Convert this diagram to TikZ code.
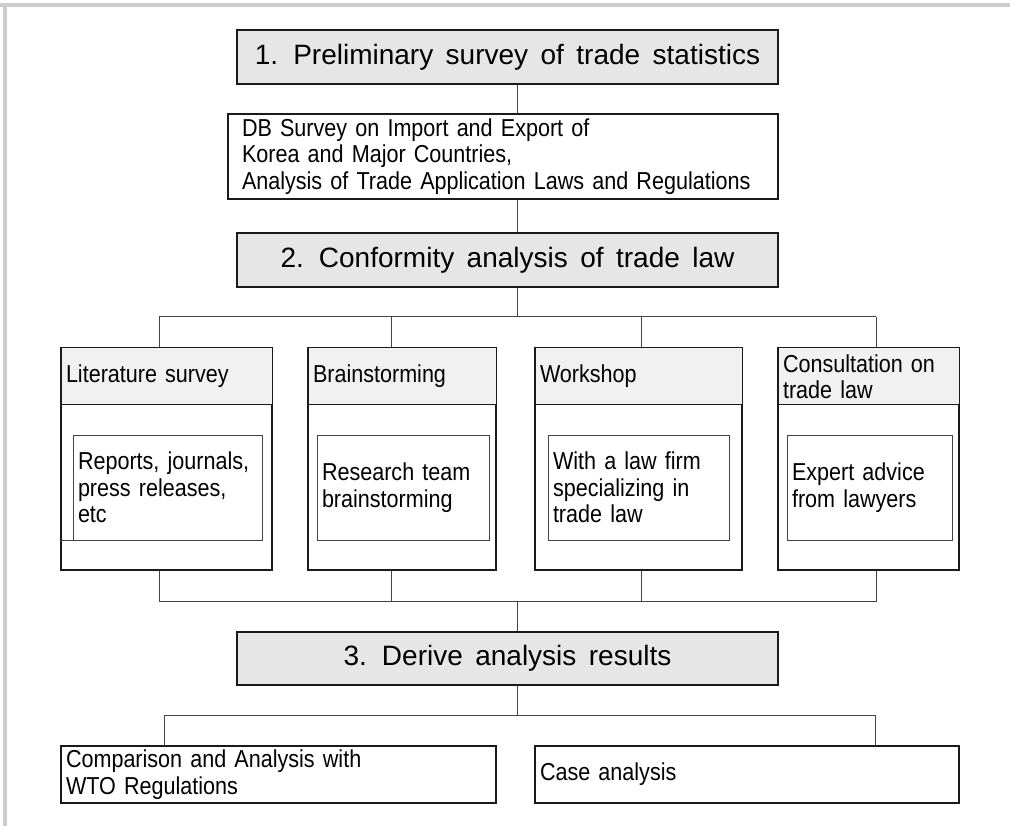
\documentclass[tikz,border=0pt]{standalone}
\usepackage{fontspec}
\setmainfont{Liberation Sans}[FakeStretch=0.88,WordSpace=1.57]
\newfontfamily\stagefont{Liberation Sans}[WordSpace=1.6]
\usepackage{tikz}
\usetikzlibrary{positioning}
\definecolor{ink}{HTML}{1A1A1A}
\definecolor{wire}{HTML}{444444}
\definecolor{stagefill}{HTML}{E6E6E6}
\definecolor{headfill}{HTML}{F1F1F1}
\definecolor{rimgray}{HTML}{CDCDCD}
\tikzset{
  stage/.style={draw=ink, fill=stagefill, line width=1.2pt, minimum width=541, minimum height=54,
    inner sep=0pt, font=\stagefont\fontsize{28}{32}\selectfont},
  note/.style={draw=ink, line width=1.2pt, align=left, inner xsep=5pt, inner ysep=0pt,
    font=\fontsize{24.5}{26.5}\selectfont},
  meth/.style={draw=ink, fill=white, line width=1.2pt, minimum height=222, inner sep=0pt},
  head/.style={draw=ink, fill=headfill, line width=1pt, anchor=north, minimum height=57, align=left,
    inner xsep=5pt, inner ysep=0pt, font=\fontsize{24.5}{26}\selectfont},
  sub/.style={draw=wire, line width=0.8pt, minimum height=105, align=left, inner xsep=5pt,
    inner ysep=0pt, font=\fontsize{24.5}{26.5}\selectfont},
  link/.style={draw=wire, line width=1pt},
  rim/.style={draw=rimgray, line width=4pt},
}

\begin{document}
\begin{tikzpicture}[x=1pt, y=-1pt]
  \useasboundingbox (0,0) rectangle (1010,826);
  \draw[rim] (0,5.3) -- (1010,5.3);
  \draw[rim] (5.3,5.3) -- (5.3,826);
  \coordinate (spine) at (517,0);

  % step 1
  \node[stage] (s1) at (507.5,57) {1. Preliminary survey of trade statistics};
  \node[note, text width=522pt, inner xsep=14pt, minimum height=85] (db) at (503,156.5)
    {DB Survey on Import and Export of\\ Korea and Major Countries,\\ Analysis of Trade Application Laws and Regulations};
  \draw[link] (s1.south -| spine) -- (db.north -| spine);

  % step 2
  \node[stage] (s2) at (507.5,260) {2. Conformity analysis of trade law};
  \draw[link] (db.south -| spine) -- (s2.north -| spine);

  % four ways of analysis
  \node[meth, minimum width=211] (m1) at (166.5,459) {};
  \node[meth, minimum width=188] (m2) at (402,459) {};
  \node[meth, minimum width=207] (m3) at (638.5,459) {};
  \node[meth, minimum width=181] (m4) at (868.5,459) {};
  \node[head, text width=201pt] (h1) at (m1.north) {Literature survey};
  \node[head, text width=178pt] (h2) at (m2.north) {Brainstorming};
  \node[head, text width=197pt] (h3) at (m3.north) {Workshop};
  \node[head, text width=171pt] (h4) at (m4.north) {Consultation on\\ trade law};
  \node[sub, text width=179pt] (d1) at (167.5,487.5) {Reports, journals,\\ press releases,\\ etc};
  \node[sub, text width=162pt] (d2) at (403,487.5) {Research team\\ brainstorming};
  \node[sub, text width=171pt] (d3) at (638.5,487.5) {With a law firm\\ specializing in\\ trade law};
  \node[sub, text width=155pt] (d4) at (869.5,487.5) {Expert advice\\ from lawyers};
  \draw[sub] (m1.west |- d1.south) -- (d1.south west);

  \coordinate (t1) at (159,317);
  \coordinate (t4) at (876,317);
  \draw[link] (s2.south -| spine) -- (spine |- t1);
  \draw[link] (t1) -- (t4);
  \draw[link] (t1) -- (t1 |- m1.north);
  \draw[link] (391,317) -- (391,317 |- m2.north);
  \draw[link] (641,317) -- (641,317 |- m3.north);
  \draw[link] (t4) -- (t4 |- m4.north);

  \coordinate (b1) at (159,601);
  \coordinate (b4) at (876,601);
  \draw[link] (b1 |- m1.south) -- (b1) -- (b4) -- (b4 |- m4.south);
  \draw[link] (391,601 |- m2.south) -- (391,601);
  \draw[link] (641,601 |- m3.south) -- (641,601);

  % step 3
  \node[stage, minimum height=53] (s3) at (507.5,658.5) {3. Derive analysis results};
  \draw[link] (spine |- b1) -- (s3.north -| spine);

  \node[note, text width=425pt, minimum height=57] (r1) at (278.5,774.5)
    {Comparison and Analysis with\\ WTO Regulations};
  \node[note, text width=414pt, minimum height=57] (r2) at (747,774.5) {Case analysis};
  \coordinate (u1) at (164,715);
  \coordinate (u2) at (875,715);
  \draw[link] (s3.south -| spine) -- (spine |- u1);
  \draw[link] (r1.north -| u1) -- (u1) -- (u2) -- (r2.north -| u2);
\end{tikzpicture}
\end{document}
